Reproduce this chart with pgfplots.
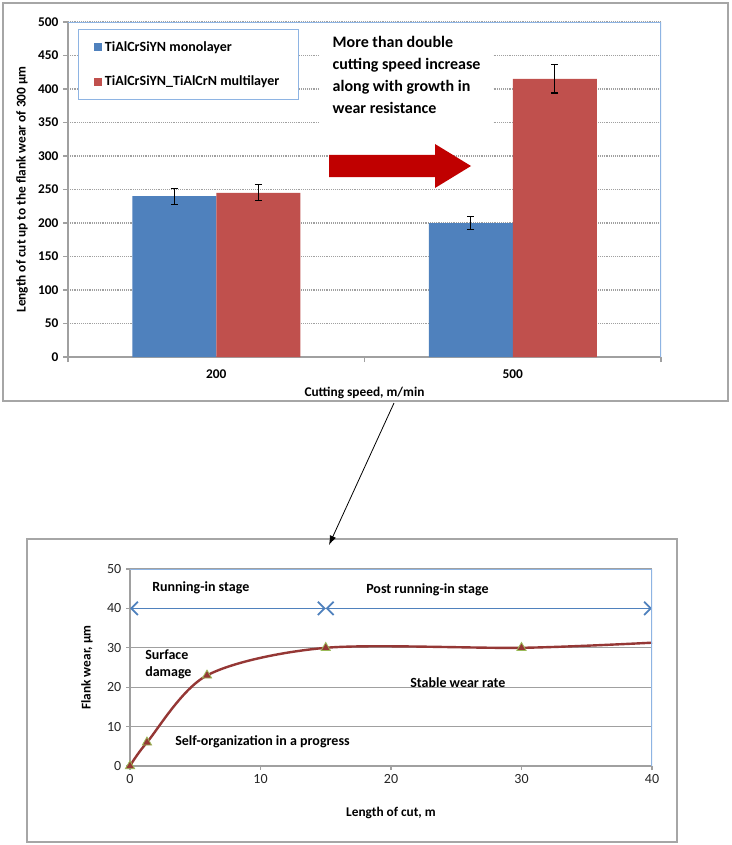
\documentclass[border=0pt]{standalone}
\usepackage{fontspec}
\setmainfont{Carlito}
\usepackage{pgfplots}
\pgfplotsset{compat=1.18}
\usetikzlibrary{arrows.meta}
\definecolor{cblue}{HTML}{4F81BD}
\definecolor{cred}{HTML}{C0504D}
\definecolor{darrow}{HTML}{C00000}
\definecolor{curvec}{HTML}{953735}
\definecolor{olivec}{HTML}{9BBB59}
\definecolor{lblue}{HTML}{8EB4E3}
\definecolor{gborder}{HTML}{A6A6A6}
\definecolor{ggrid}{HTML}{A0A0A0}
\begin{document}
\begin{tikzpicture}
\useasboundingbox[fill=white] (0,0) rectangle (548.25pt,-633.75pt);
\begin{scope}[x=0.75pt,y=-0.75pt]
\draw[gborder, line width=1.2pt] (3,3) rectangle (728,401);
\draw[gborder, line width=1.2pt] (27,539) rectangle (677,842);
\end{scope}

% ---------------- top chart ----------------
\begin{axis}[
  at={(51pt,-267.75pt)}, anchor=south west, scale only axis,
  width=444.75pt, height=251.25pt,
  xmin=-0.5, xmax=1.5, ymin=0, ymax=500,
  ytick={0,50,...,500},
  xtick={-0.5,0.5,1.5}, xticklabels={},
  extra x ticks={0,1}, extra x tick labels={200,500},
  extra x tick style={major tick length=0pt, xticklabel style={yshift=-6pt}},
  axis x line*=bottom, axis y line*=left,
  axis line style={ggrid, line width=0.8pt},
  tick style={ggrid, line width=0.8pt},
  tick align=outside, major tick length=3.75pt,
  ymajorgrids, grid style={densely dotted, ggrid, line width=0.8pt},
  ybar=0pt, bar width=63pt,
  tick label style={font=\bfseries\fontsize{10}{12}\selectfont},
  /pgf/number format/assume math mode=true,
  xlabel={Cutting speed, m/min},
  ylabel={Length of cut up to the flank wear of 300 μm},
  label style={font=\bfseries\fontsize{10}{12}\selectfont},
  xlabel style={at={(axis description cs:0.5,-0.107)}, anchor=center},
  ylabel style={at={(axis description cs:-0.0776,0.5)}, anchor=center},
  legend style={at={(axis description cs:0.0169,0.979)}, anchor=north west,
    draw=lblue, fill=white, font=\bfseries\fontsize{10.5}{12.5}\selectfont,
    inner xsep=12pt, inner ysep=7pt, row sep=13pt},
  legend cell align=left,
  legend image code/.code={\fill[#1] (0pt,-3pt) rectangle (6pt,3pt);},
]
\addplot[fill=cblue, draw=none,
  error bars/.cd, y dir=both, y explicit,
  error bar style={black, line width=0.8pt},
  error mark options={rotate=90, black, mark size=2.6pt, line width=0.8pt}]
  coordinates {(0,240) +- (0,12) (1,200) +- (0,10)};
\addlegendentry{TiAlCrSiYN monolayer}
\addplot[fill=cred, draw=none,
  error bars/.cd, y dir=both, y explicit,
  error bar style={black, line width=0.8pt},
  error mark options={rotate=90, black, mark size=2.6pt, line width=0.8pt}]
  coordinates {(0,245) +- (0,12) (1,415) +- (0,21)};
\addlegendentry{TiAlCrSiYN\_TiAlCrN multilayer}
\draw[lblue, line width=0.8pt] (rel axis cs:0,1) -- (rel axis cs:1,1) -- (rel axis cs:1,0);
\end{axis}

\begin{scope}[x=0.75pt,y=-0.75pt]
\fill[white] (320,23) rectangle (493,140);
\node[anchor=west, align=left, font=\bfseries\fontsize{12}{16.5}\selectfont] at (328,75)
  {More than double\\cutting speed increase\\along with growth in\\wear resistance};
\fill[darrow] (329,155) -- (435,155) -- (435,144) -- (471,166) -- (435,188) -- (435,177) -- (329,177) -- cycle;
\draw[-{Latex[length=7pt,width=5pt]}, line width=0.6pt] (394,403) -- (329,545);
\end{scope}

% ---------------- bottom chart ----------------
\begin{axis}[
  at={(97.5pt,-574.5pt)}, anchor=south west, scale only axis,
  width=391.5pt, height=147.75pt,
  xmin=0, xmax=40, ymin=0, ymax=50,
  xtick={0,10,...,40}, ytick={0,10,...,50},
  axis x line*=bottom, axis y line*=left,
  axis line style={ggrid, line width=0.9pt},
  tick style={ggrid, line width=0.9pt},
  tick align=outside, major tick length=3pt,
  ymajorgrids, grid style={ggrid, line width=0.8pt},
  tick label style={font=\fontsize{10.5}{12}\selectfont, text=black!85},
  /pgf/number format/assume math mode=true,
  xlabel={Length of cut, m},
  ylabel={Flank wear, μm},
  label style={font=\bfseries\fontsize{10}{12}\selectfont},
  xlabel style={at={(axis description cs:0.5,-0.2386)}, anchor=center},
  ylabel style={at={(axis description cs:-0.0824,0.5)}, anchor=center},
]
\addplot[cblue, line width=1.3pt, {Straight Barb[length=5pt,width=10pt]}-{Straight Barb[length=5pt,width=10pt]}]
  coordinates {(0,40) (15,40)};
\addplot[cblue, line width=1.3pt, {Straight Barb[length=5pt,width=10pt]}-{Straight Barb[length=5pt,width=10pt]}]
  coordinates {(15,40) (40,40)};
\addplot[curvec, line width=1.8pt, smooth, mark=triangle*, mark indices={1,2,3,4,5},
  mark options={fill=curvec, draw=olivec, line width=0.6pt, solid}, mark size=4pt]
  coordinates {(0,0) (1.3,6) (5.9,23) (15,30) (30,30) (40,31.3)};
\draw[lblue, line width=0.8pt] (rel axis cs:0,1) -- (rel axis cs:1,1) -- (rel axis cs:1,0);
\end{axis}

\begin{scope}[x=0.75pt,y=-0.75pt, every node/.style={font=\bfseries\fontsize{10.5}{13}\selectfont, inner sep=0pt}]
\node[anchor=west] at (152,588) {Running-in stage};
\node[anchor=west] at (366,590) {Post running-in stage};
\node[anchor=west, align=left] at (145,664) {Surface\\damage};
\node[anchor=west] at (410,683) {Stable wear rate};
\node[anchor=west] at (175,742) {Self-organization in a progress};
\end{scope}
\end{tikzpicture}
\end{document}
